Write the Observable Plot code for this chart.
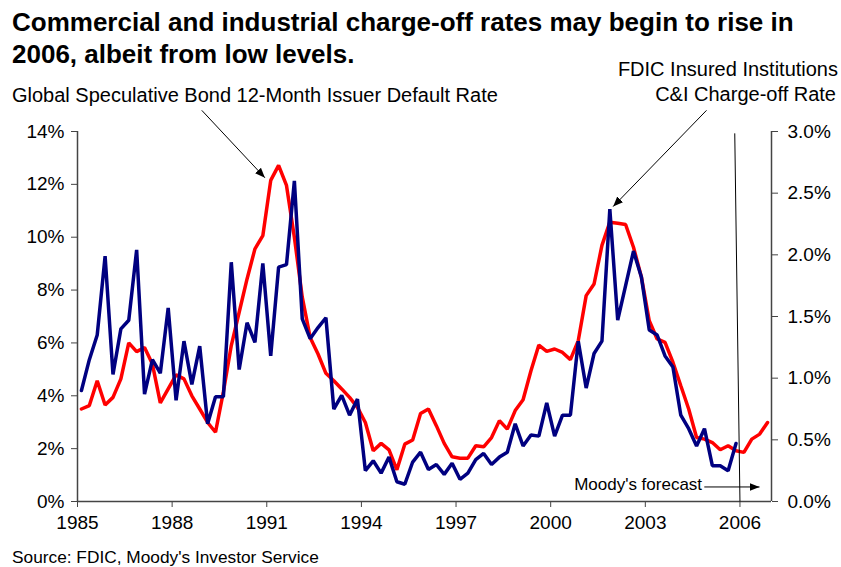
<!DOCTYPE html>
<html>
<head>
<meta charset="utf-8">
<script src="https://cdn.jsdelivr.net/npm/d3@7"></script>
<script src="https://cdn.jsdelivr.net/npm/@observablehq/plot@0.6"></script>
<style>
  html, body { margin: 0; padding: 0; background: #fff; }
  #wrap { position: relative; width: 841px; height: 567px; font-family: "Liberation Sans", Arial, sans-serif; color: #000; }
  #wrap svg { position: absolute; left: 0; top: 0; }
  .t { position: absolute; white-space: nowrap; }
  #title { left: 12px; top: 6px; font-size: 26px; font-weight: bold; line-height: 32px; }
  #lblBond { left: 12px; top: 84px; font-size: 20px; line-height: 22px; }
  #lblFdic { right: 3px; top: 57px; font-size: 20px; line-height: 25px; text-align: right; }
  #source { left: 12px; top: 547px; font-size: 17.3px; line-height: 20px; }
</style>
</head>
<body>
<div id="wrap">
  <div class="t" id="title">Commercial and industrial charge-off rates may begin to rise in<br>2006, albeit from low levels.</div>
  <div class="t" id="lblBond">Global Speculative Bond 12-Month Issuer Default Rate</div>
  <div class="t" id="lblFdic">FDIC Insured Institutions<br><span style="margin-right:2px">C&amp;I Charge-off Rate</span></div>
  <div class="t" id="source">Source: FDIC, Moody's Investor Service</div>
</div>
<script>
// Quarterly series, first quarter = 1985 Q1
const startYear = 1985;
// Global speculative-grade bond 12-month issuer default rate (%), left axis, 1985Q1–2006Q4
const defaultRate = [
  3.50, 3.63, 4.57, 3.65,
  3.94, 4.64, 6.00, 5.67,
  5.83, 5.20, 3.73, 4.26,
  4.79, 4.64, 4.00, 3.50,
  2.99, 2.62, 4.15, 5.90,
  7.16, 8.42, 9.56, 10.06,
  12.15, 12.72, 11.96, 10.00,
  7.73, 6.21, 5.58, 4.85,
  4.57, 4.26, 3.94, 3.56,
  2.99, 1.92, 2.20, 1.95,
  1.20, 2.17, 2.33, 3.33,
  3.50, 2.87, 2.20, 1.69,
  1.64, 1.64, 2.11, 2.07,
  2.42, 3.06, 2.74, 3.44,
  3.85, 4.95, 5.92, 5.68,
  5.77, 5.64, 5.37, 6.09,
  7.79, 8.23, 9.69, 10.57,
  10.53, 10.48, 9.62, 8.50,
  6.84, 6.15, 6.02, 5.27,
  4.38, 3.50, 2.42, 2.36,
  2.23, 1.96, 2.11, 1.92,
  1.86, 2.36, 2.55, 2.99
];
// FDIC insured institutions C&I charge-off rate (%), right axis, 1985Q1–2005Q4
const chargeOffRate = [
  0.90, 1.15, 1.35, 1.99,
  1.03, 1.40, 1.47, 2.04,
  0.87, 1.15, 1.04, 1.57,
  0.82, 1.30, 0.95, 1.26,
  0.63, 0.85, 0.85, 1.94,
  1.07, 1.45, 1.29, 1.93,
  1.18, 1.90, 1.92, 2.60,
  1.48, 1.32, 1.41, 1.49,
  0.75, 0.86, 0.70, 0.83,
  0.25, 0.33, 0.23, 0.36,
  0.16, 0.14, 0.32, 0.40,
  0.26, 0.30, 0.22, 0.31,
  0.18, 0.23, 0.34, 0.39,
  0.30, 0.36, 0.40, 0.63,
  0.45, 0.54, 0.53, 0.80,
  0.53, 0.70, 0.70, 1.30,
  0.92, 1.20, 1.30, 2.37,
  1.47, 1.75, 2.03, 1.82,
  1.39, 1.35, 1.18, 1.09,
  0.70, 0.59, 0.45, 0.59,
  0.29, 0.29, 0.25, 0.47
];
const xTicks = [1985, 1988, 1991, 1994, 1997, 2000, 2003, 2006];
const leftTicks = [0, 2, 4, 6, 8, 10, 12, 14];
const rightTicks = [0, 0.5, 1.0, 1.5, 2.0, 2.5, 3.0];
const forecastLabel = "Moody's forecast";

// ratio between the two axes (left 0–14 %, right 0–3 %)
const k = 14 / 3;
const qx = i => startYear + (i + 0.5) / 4;
const red = defaultRate.map((v, i) => ({t: qx(i), v}));
const blue = chargeOffRate.map((v, i) => ({t: qx(i), v: v * k}));

function filledHead(color) {
  const m = d3.create("svg:marker")
    .attr("viewBox", "-10 -5 10 10")
    .attr("markerWidth", 10)
    .attr("markerHeight", 10)
    .attr("markerUnits", "userSpaceOnUse")
    .attr("orient", "auto")
    .attr("fill", color)
    .attr("stroke", "none");
  m.append("path").attr("d", "M-10,-4L0,0L-10,4Z");
  return m.node();
}

const axisColor = "#444";
const chart = Plot.plot({
  width: 841,
  height: 567,
  marginLeft: 77,
  marginRight: 70,
  marginTop: 131,
  marginBottom: 66,
  style: {fontFamily: "'Liberation Sans', Arial, sans-serif", fontSize: "19px", color: "#000", background: "transparent"},
  x: {domain: [1985, 2007]},
  y: {domain: [0, 14]},
  marks: [
    Plot.axisX({ticks: xTicks, tickFormat: d => String(d), tickSize: 6, tickPadding: 8, stroke: axisColor, label: null, fontSize: 19}),
    Plot.axisY({anchor: "left", ticks: leftTicks, tickFormat: d => d + "%", tickSize: 6, tickPadding: 7, stroke: axisColor, label: null, fontSize: 19}),
    Plot.axisY({anchor: "right", ticks: rightTicks.map(v => v * k), tickFormat: d => (d / k).toFixed(1) + "%", tickSize: 6, tickPadding: 10, stroke: axisColor, label: null, fontSize: 19}),
    Plot.ruleY([0], {stroke: axisColor, strokeWidth: 1.5}),
    Plot.ruleX([1985, 2007], {y1: 0, y2: 14, stroke: axisColor, strokeWidth: 1.5}),
    Plot.line(red, {x: "t", y: "v", stroke: "#ff0000", strokeWidth: 3.5, strokeLinejoin: "miter"}),
    Plot.line(blue, {x: "t", y: "v", stroke: "#000080", strokeWidth: 3.5, strokeLinejoin: "miter"}),
    // forecast divider
    Plot.link([0], {x1: 2005.835, y1: 13.93, x2: 2006.0, y2: 0, stroke: "#000", strokeWidth: 1}),
    // annotation arrows
    Plot.link([0], {x1: 1988.94, y1: 14.8, x2: 1990.94, y2: 12.25, stroke: "#000", strokeWidth: 1, markerEnd: filledHead}),
    Plot.link([0], {x1: 2004.94, y1: 14.8, x2: 2001.98, y2: 11.16, stroke: "#000", strokeWidth: 1, markerEnd: filledHead}),
    Plot.link([0], {x1: 2004.87, y1: 0.55, x2: 2006.62, y2: 0.55, stroke: "#000", strokeWidth: 1, markerEnd: filledHead}),
    Plot.text([forecastLabel], {x: 2004.8, y: 0.66, text: d => d, textAnchor: "end", fontSize: 17, fill: "#000"})
  ]
});
document.getElementById("wrap").prepend(chart);
</script>
</body>
</html>
